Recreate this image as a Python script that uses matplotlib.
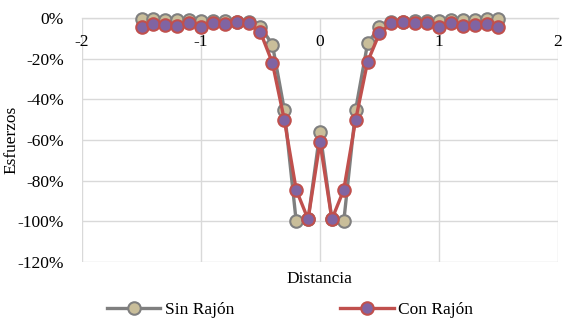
import matplotlib
matplotlib.use("Agg")
import matplotlib.pyplot as plt
import matplotlib.ticker as mticker

# Data (distance vs. stress, %)
distancia = [-1.5, -1.4, -1.3, -1.2, -1.1, -1.0, -0.9, -0.8, -0.7, -0.6,
             -0.5, -0.4, -0.3, -0.2, -0.1, 0.0, 0.1, 0.2, 0.3, 0.4,
             0.5, 0.6, 0.7, 0.8, 0.9, 1.0, 1.1, 1.2, 1.3, 1.4, 1.5]
sin_rajon = [-0.5, -0.5, -0.7, -0.8, -1.0, -1.3, -1.5, -1.5, -1.8, -2.0,
             -4.3, -13.0, -45.0, -100.0, -99.0, -56.0, -99.0, -100.0, -45.0, -12.5,
             -4.3, -2.0, -1.8, -1.5, -1.5, -1.3, -1.0, -0.8, -0.7, -0.5, -0.5]
con_rajon = [-4.6, -3.0, -3.5, -4.0, -2.6, -4.3, -2.3, -3.0, -2.0, -2.3,
             -7.0, -22.0, -50.0, -84.5, -99.0, -61.0, -99.0, -84.5, -50.0, -21.5,
             -7.5, -2.3, -2.0, -2.3, -2.3, -4.3, -2.6, -4.0, -3.5, -3.0, -4.6]
x_ticks = [-2, -1, 0, 1, 2]
y_ticks = [0, -20, -40, -60, -80, -100, -120]

GRID = "#D9D9D9"
TEXT = "#000000"
FS = 12.5

plt.rcParams.update({
    "font.family": ["Liberation Serif", "DejaVu Serif"],
    "font.size": FS,
    "axes.unicode_minus": False,
})

fig = plt.figure(figsize=(5.63, 3.23), dpi=100, facecolor="white")
ax = fig.add_axes([0.1457, 0.189, 0.991 - 0.1457, 0.944 - 0.189])

ax.plot(distancia, sin_rajon, color="#7F7F7F", linewidth=2.4, marker="o",
        markersize=9, markerfacecolor="#C9BE9A", markeredgecolor="#7F7F7F",
        markeredgewidth=1.5, label="Sin Rajón", clip_on=False, zorder=3)
ax.plot(distancia, con_rajon, color="#C0504D", linewidth=2.4, marker="o",
        markersize=9, markerfacecolor="#8064A2", markeredgecolor="#C0504D",
        markeredgewidth=1.5, label="Con Rajón", clip_on=False, zorder=4)

ax.set_xlim(-2, 2)
ax.set_ylim(-120, 0)
ax.set_xticks(x_ticks)
ax.set_yticks(y_ticks)
ax.yaxis.set_major_formatter(mticker.FuncFormatter(lambda v, _: f"{int(v)}%"))
ax.xaxis.set_major_formatter(mticker.FuncFormatter(lambda v, _: f"{int(v)}"))

ax.grid(True, color=GRID, linewidth=1.0)
ax.set_axisbelow(True)
for side in ["top", "right", "left"]:
    ax.spines[side].set_visible(False)
ax.spines["bottom"].set_position(("data", 0))
ax.spines["bottom"].set_color(GRID)
ax.spines["bottom"].set_linewidth(1.0)
ax.tick_params(axis="both", length=0, colors=TEXT, labelsize=FS)
ax.tick_params(axis="x", pad=11.5)
ax.tick_params(axis="y", pad=13)

fig.text(0.021, 0.5665, "Esfuerzos", rotation=90, ha="center", va="center", fontsize=FS)
fig.text(0.568, 0.136, "Distancia", ha="center", va="center", fontsize=FS)

fig.legend(loc="center", bbox_to_anchor=(0.515, 0.04), ncol=2, frameon=False,
           fontsize=FS, handlelength=3.1, columnspacing=6.1, handletextpad=0.25)

fig.savefig("out.png", dpi=100, facecolor="white")
